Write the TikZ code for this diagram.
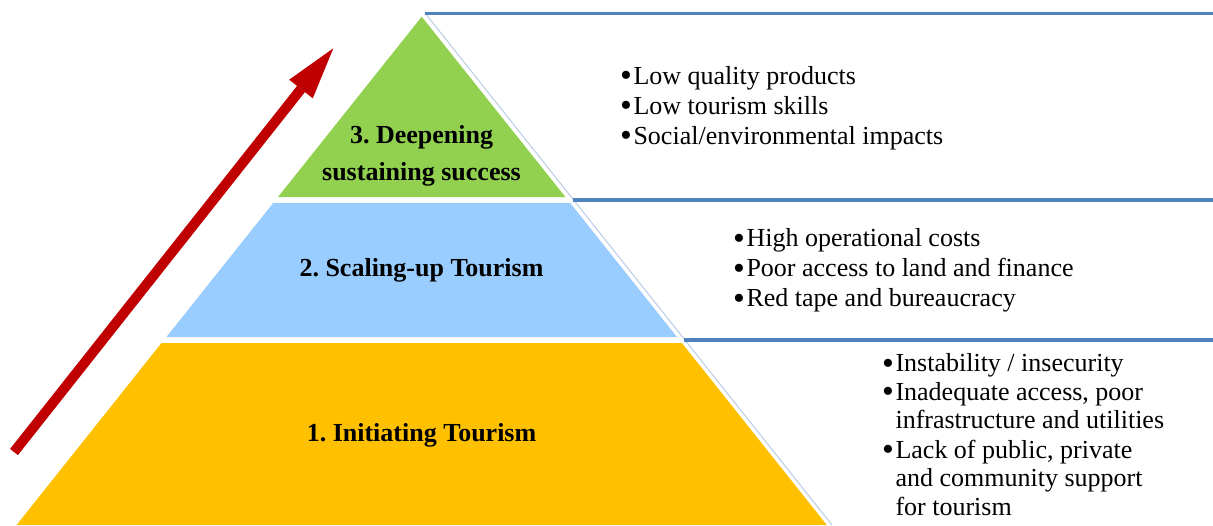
\documentclass[tikz,border=0pt]{standalone}
\usepackage{fontspec}
\setmainfont{Liberation Serif}
\frenchspacing
\definecolor{lgreen}{HTML}{92D050}
\definecolor{lblue}{HTML}{99CCFF}
\definecolor{lyellow}{HTML}{FFC000}
\definecolor{darkred}{HTML}{C00000}
\definecolor{rule}{HTML}{4F81BD}
\definecolor{faint}{HTML}{B8CCE4}
\newcommand{\mybul}{\raisebox{-2.6pt}{\scalebox{1.3}{•}}\hspace{1.5pt}}
\tikzset{
  lvl/.style={font=\fontsize{26}{30}\selectfont\bfseries, inner sep=0pt, anchor=base},
  itm/.style={font=\fontsize{26}{30}\selectfont, inner sep=0pt, anchor=base west},
  hrule/.style={draw=rule, line width=3.5pt},
}
\begin{document}
\begin{tikzpicture}[x=1pt,y=-1pt]
\useasboundingbox (0,0) rectangle (1213,525);
% pyramid layers
\fill[lgreen] (421.7,16.7) -- (565.4,197) -- (278,197) -- cycle;
\fill[lblue] (273.2,203) -- (570.2,203) -- (677,337) -- (166.4,337) -- cycle;
\fill[lyellow] (161.5,343) -- (681.9,343) -- (826.8,525) -- (16.6,525) -- cycle;
% faint diagonal and rules
\coordinate (d1) at (425,13);
\coordinate (d2) at (832,525);
\draw[faint, line width=1pt] (d1) -- (d2);
\coordinate (r1a) at (425,13.7);  \coordinate (r1b) at (1213,13.7);
\coordinate (r2a) at (573,200);   \coordinate (r2b) at (1213,200);
\coordinate (r3a) at (684,340);   \coordinate (r3b) at (1213,340);
\draw[hrule] (r1a) -- (r1b);
\draw[hrule] (r2a) -- (r2b);
\draw[hrule] (r3a) -- (r3b);
% arrow
\coordinate (atail) at (14,452);
\coordinate (abase) at (301,89);
\coordinate (atip) at (333.3,48.3);
\coordinate (aw1) at (312.8,98.3);
\coordinate (aw2) at (289.2,79.7);
\draw[darkred, line width=10pt] (atail) -- (abase);
\fill[darkred] (atip) -- (aw1) -- (aw2) -- cycle;
% level labels
\node[lvl] (l3a) at (421.5,143.3) {3. Deepening};
\node[lvl] (l3b) at (421.5,180) {sustaining success};
\node[lvl] (l2) at (421.5,276) {2. Scaling-up Tourism};
\node[lvl] (l1) at (421.5,441.7) {1. Initiating Tourism};
% list 3 (top)
\node[itm] (t1) at (620,84) {\mybul Low quality products};
\node[itm] (t2) at (620,114) {\mybul Low tourism skills};
\node[itm] (t3) at (620,144) {\mybul Social/environmental impacts};
% list 2
\node[itm] (m1) at (733,246.7) {\mybul High operational costs};
\node[itm] (m2) at (733,276.7) {\mybul Poor access to land and finance};
\node[itm] (m3) at (733,306.7) {\mybul Red tape and bureaucracy};
% list 1 (bottom)
\node[itm] (b1) at (882,371.7) {\mybul Instability / insecurity};
\node[itm] (b2) at (882,400) {\mybul Inadequate access, poor};
\node[itm] (b3) at (882,428.3) {\hphantom{\mybul}infrastructure and utilities};
\node[itm] (b4) at (882,458.3) {\mybul Lack of public, private};
\node[itm] (b5) at (882,486.7) {\hphantom{\mybul}and community support};
\node[itm] (b6) at (882,515) {\hphantom{\mybul}for tourism};
\end{tikzpicture}
\end{document}
